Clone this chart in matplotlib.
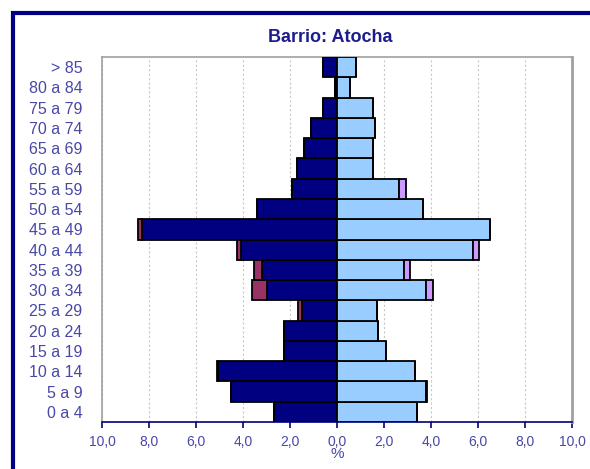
import matplotlib
matplotlib.use("Agg")
from matplotlib import pyplot as plt
from matplotlib.patches import Rectangle
import numpy as np

plt.rcParams['font.family'] = ['Liberation Sans', 'DejaVu Sans']

edades = ['0 a 4', '5 a 9', '10 a 14', '15 a 19', '20 a 24', '25 a 29',
          '30 a 34', '35 a 39', '40 a 44', '45 a 49', '50 a 54', '55 a 59',
          '60 a 64', '65 a 69', '70 a 74', '75 a 79', '80 a 84', '> 85']

# hombres: espanoles y extranjeros (%)
hombres_esp = [2.7, 4.5, 5.05, 2.25, 2.25, 1.5, 3.0, 3.2, 4.1, 8.3,
               3.4, 1.9, 1.7, 1.4, 1.1, 0.6, 0.1, 0.6]
hombres_ext = [0.0, 0.0, 0.05, 0.0, 0.0, 0.15, 0.6, 0.35, 0.15, 0.15,
               0.0, 0.0, 0.0, 0.0, 0.0, 0.0, 0.0, 0.0]
# mujeres: espanolas y extranjeras (%)
mujeres_esp = [3.4, 3.8, 3.3, 2.1, 1.75, 1.7, 3.8, 2.85, 5.8, 6.5,
               3.65, 2.65, 1.55, 1.55, 1.6, 1.55, 0.55, 0.8]
mujeres_ext = [0.0, 0.05, 0.0, 0.0, 0.0, 0.0, 0.3, 0.25, 0.25, 0.0,
               0.0, 0.3, 0.0, 0.0, 0.0, 0.0, 0.0, 0.0]

xticks = [-10, -8, -6, -4, -2, 0, 2, 4, 6, 8, 10]

navy = '#000080'
label_col = '#4848a8'

fig = plt.figure(figsize=(5.9, 4.69), dpi=100)
ax = fig.add_axes([102/590, 1 - 422/469, 470/590, 365/469])

y = np.arange(len(edades))
he = -np.array(hombres_esp)
hx = -np.array(hombres_ext)
ax.barh(y, he, height=1.0, color=navy, edgecolor='black', linewidth=1.3, zorder=3)
ax.barh(y, hx, left=he, height=1.0, color='#993366', edgecolor='black', linewidth=1.3, zorder=3)
ax.barh(y, mujeres_esp, height=1.0, color='#99ccff', edgecolor='black', linewidth=1.3, zorder=3)
ax.barh(y, mujeres_ext, left=mujeres_esp, height=1.0, color='#cc99ff', edgecolor='black', linewidth=1.3, zorder=3)

ax.set_xlim(-10, 10)
ax.set_ylim(-0.5, len(edades) - 0.5)
ax.set_yticks(y)
ax.set_yticklabels(edades, fontsize=11.5, color=label_col)
ax.set_xticks(xticks)
ax.set_xticklabels([f"{abs(v):.1f}".replace('.', ',') for v in xticks],
                   fontsize=10, color=label_col)
ax.tick_params(axis='y', length=0, pad=14)
ax.tick_params(axis='x', length=4, width=1.2, color=navy, direction='out', pad=5)
ax.set_xlabel('%', fontsize=11, color=label_col, labelpad=-1)

ax.grid(axis='x', color='#c8c8c8', linestyle=(0, (2, 2)), linewidth=0.8, zorder=0)
for s in ['left', 'top']:
    ax.spines[s].set_color('#a0a0a0')
    ax.spines[s].set_linewidth(1.2)
ax.spines['right'].set_color('#a0a0a0')
ax.spines['right'].set_linewidth(2)
ax.spines['bottom'].set_color(navy)
ax.spines['bottom'].set_linewidth(1.2)

fig.text(330/590, 1 - 38/469, 'Barrio: Atocha', ha='center', va='center',
         fontsize=13, fontweight='bold', color='#1c1c8c')

# marco exterior
fig.patches.append(Rectangle((13/590, -0.1), 1.2, (469 - 13)/469 + 0.1,
                             transform=fig.transFigure, fill=False,
                             edgecolor=navy, linewidth=3, clip_on=False))

plt.savefig('out.png', dpi=100)
